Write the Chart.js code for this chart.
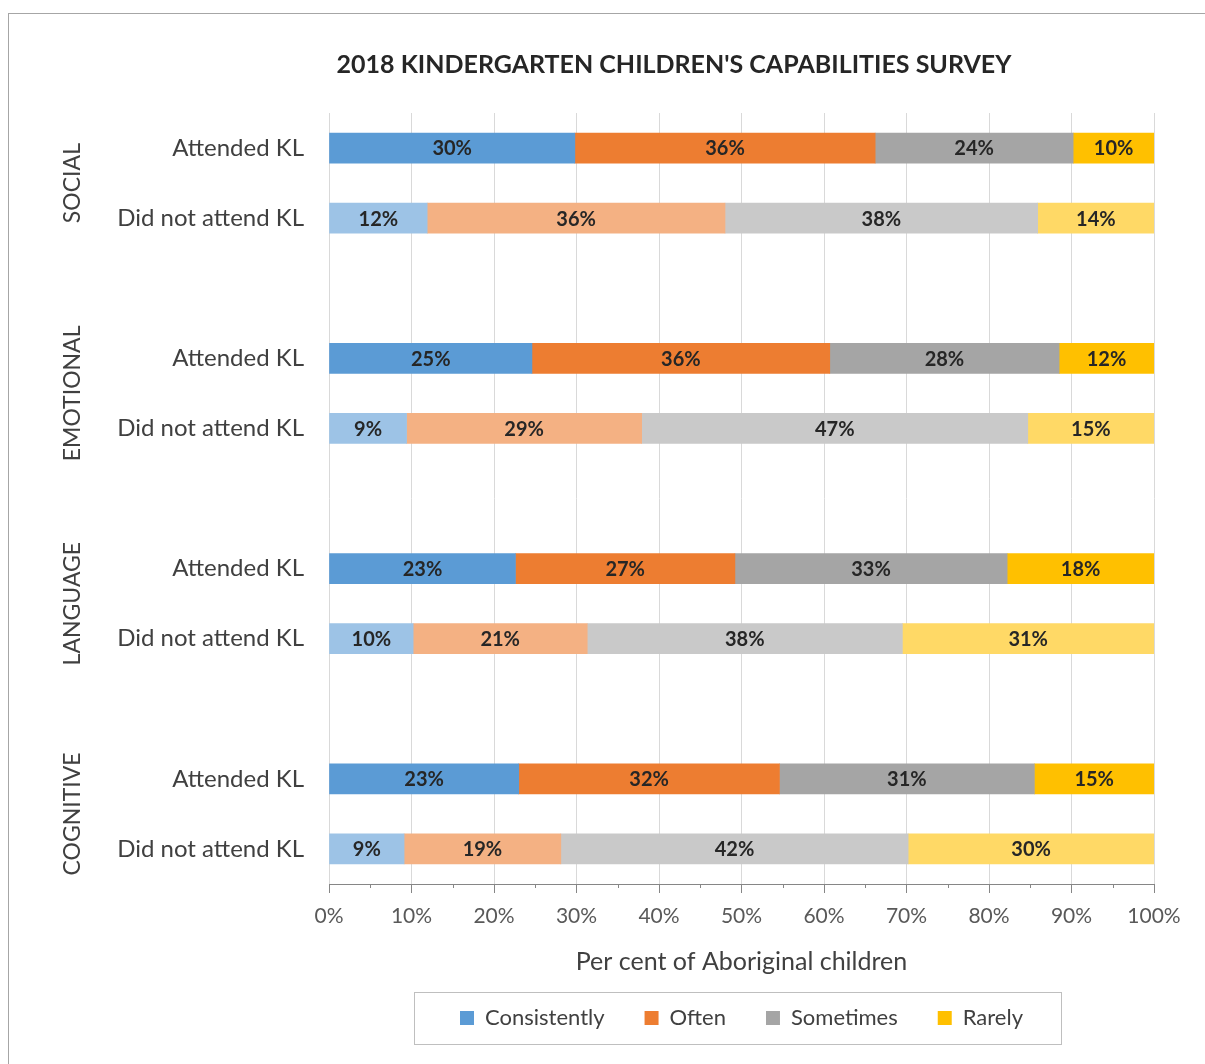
<!DOCTYPE html>
<html>
<head>
<meta charset="utf-8">
<script src="https://cdn.jsdelivr.net/npm/chart.js@4.4.1/dist/chart.umd.min.js"></script>
<style>
  html, body { margin: 0; padding: 0; background: #fff; }
  #wrap { width: 1205px; height: 1064px; position: relative; }
</style>
</head>
<body>
<div id="wrap"><canvas id="surveyChart" width="1205" height="1064"></canvas></div>
<script>
// rows: attended / did not attend, blank slot between groups
const categories = ['Attended KL', 'Did not attend KL', '', 'Attended KL', 'Did not attend KL', '',
                    'Attended KL', 'Did not attend KL', '', 'Attended KL', 'Did not attend KL'];
const groups = ['SOCIAL', 'EMOTIONAL', 'LANGUAGE', 'COGNITIVE'];
const seriesNames = ['Consistently', 'Often', 'Sometimes', 'Rarely'];

const consistently = [29.8, 11.9, null, 24.6, 9.4, null, 22.6, 10.2, null, 23.0, 9.1];
const often        = [36.4, 36.1, null, 36.1, 28.5, null, 26.6, 21.1, null, 31.6, 19.0];
const sometimes    = [24.0, 37.9, null, 27.8, 46.8, null, 33.0, 38.2, null, 30.9, 42.1];
const rarely       = [9.8, 14.1, null, 11.5, 15.3, null, 17.8, 30.5, null, 14.5, 29.8];

const xTicks = [0, 10, 20, 30, 40, 50, 60, 70, 80, 90, 100];

const chartTitle = "2018 KINDERGARTEN CHILDREN'S CAPABILITIES SURVEY";

const darkColors  = ['#5B9BD5', '#ED7D31', '#A5A5A5', '#FFC000'];
const lightColors = ['#9DC3E6', '#F4B183', '#C9C9C9', '#FFD966'];

const FONT = 'Lato, "Open Sans", sans-serif';

function rowColors(i) {
    return categories.map(function(c) {
        return c === 'Attended KL' ? darkColors[i] : lightColors[i];
    });
}

const allSeries = [consistently, often, sometimes, rarely];
const datasets = allSeries.map(function(vals, i) {
    return {
        label: seriesNames[i],
        data: vals,
        backgroundColor: rowColors(i),
        borderWidth: 0,
        barThickness: 30
    };
});

// page frame + title
const framePlugin = {
    id: 'frame',
    beforeDraw: function(chart) {
        const ctx = chart.ctx;
        ctx.save();
        ctx.fillStyle = '#fff';
        ctx.fillRect(0, 0, chart.width, chart.height);
        ctx.strokeStyle = '#A6A6A6';
        ctx.lineWidth = 1;
        ctx.strokeRect(8.5, 13.5, 1400, 1200);

        ctx.font = 'bold 25px ' + FONT;
        ctx.fillStyle = '#262626';
        ctx.textAlign = 'center';
        ctx.textBaseline = 'middle';
        ctx.fillText(chartTitle, 674, 65);
        ctx.restore();
    }
};

// minor ticks, value labels, group names, legend box
const extrasPlugin = {
    id: 'extras',
    afterDraw: function(chart) {
        const ctx = chart.ctx;
        const xs = chart.scales.x;
        const ys = chart.scales.y;
        ctx.save();

        // minor ticks at 5%
        ctx.strokeStyle = '#868686';
        ctx.lineWidth = 1;
        for (let v = 5; v < 100; v += 10) {
            const px = Math.round(xs.getPixelForValue(v)) + 0.5;
            ctx.beginPath();
            ctx.moveTo(px, xs.top);
            ctx.lineTo(px, xs.top + 4);
            ctx.stroke();
        }

        // value labels
        ctx.font = 'bold 20px ' + FONT;
        ctx.fillStyle = '#262626';
        ctx.textAlign = 'center';
        ctx.textBaseline = 'middle';
        chart.data.datasets.forEach(function(ds, di) {
            const meta = chart.getDatasetMeta(di);
            meta.data.forEach(function(bar, idx) {
                const v = ds.data[idx];
                if (v === null) return;
                ctx.fillText(Math.round(v) + '%', (bar.x + bar.base) / 2, bar.y + 1);
            });
        });

        // group names (rotated)
        ctx.font = '23px ' + FONT;
        ctx.fillStyle = '#404040';
        groups.forEach(function(g, gi) {
            const y1 = ys.getPixelForValue(gi * 3);
            const y2 = ys.getPixelForValue(gi * 3 + 1);
            ctx.save();
            ctx.translate(73, (y1 + y2) / 2);
            ctx.rotate(-Math.PI / 2);
            ctx.fillText(g, 0, 0);
            ctx.restore();
        });

        // legend border
        const hb = chart.legend.legendHitBoxes;
        if (hb && hb.length) {
            const left = hb[0].left - 46;
            const last = hb[hb.length - 1];
            const right = last.left + last.width + 38;
            const cy = hb[0].top + hb[0].height / 2;
            ctx.strokeStyle = '#BFBFBF';
            ctx.strokeRect(Math.round(left) + 0.5, Math.round(cy - 26) + 0.5,
                           Math.round(right - left), 52);
        }
        ctx.restore();
    }
};

new Chart(document.getElementById('surveyChart'), {
    type: 'bar',
    data: { labels: categories, datasets: datasets },
    options: {
        indexAxis: 'y',
        responsive: false,
        animation: false,
        layout: { padding: { left: 116, right: 51, top: 113, bottom: 25 } },
        scales: {
            x: {
                stacked: true,
                min: 0,
                max: 100,
                afterBuildTicks: function(scale) {
                    scale.ticks = xTicks.map(function(v) { return { value: v }; });
                },
                afterFit: function(scale) { scale.height = 83; },
                grid: { color: '#D9D9D9', tickColor: '#868686', tickLength: 9 },
                border: { color: '#868686' },
                ticks: {
                    padding: 11,
                    color: '#595959',
                    font: { family: FONT, size: 21 },
                    callback: function(v) { return v + '%'; }
                },
                title: {
                    display: true,
                    text: 'Per cent of Aboriginal children',
                    color: '#404040',
                    font: { family: FONT, size: 25, lineHeight: 1.2 },
                    padding: { top: 0, bottom: -10 }
                }
            },
            y: {
                stacked: true,
                afterFit: function(scale) { scale.width = 213; },
                grid: { display: false, drawTicks: false },
                border: { display: false },
                ticks: {
                    padding: 25,
                    color: '#404040',
                    font: { family: FONT, size: 24 }
                }
            }
        },
        plugins: {
            title: { display: false },
            legend: {
                position: 'bottom',
                fullSize: false,
                labels: {
                    boxWidth: 14,
                    boxHeight: 14,
                    padding: 40,
                    color: '#404040',
                    font: { family: FONT, size: 22 },
                    generateLabels: function(chart) {
                        return seriesNames.map(function(n, i) {
                            return { text: n, fillStyle: darkColors[i], strokeStyle: darkColors[i],
                                     lineWidth: 0, datasetIndex: i, fontColor: '#404040' };
                        });
                    }
                }
            },
            tooltip: { enabled: false }
        }
    },
    plugins: [framePlugin, extrasPlugin]
});
</script>
</body>
</html>
